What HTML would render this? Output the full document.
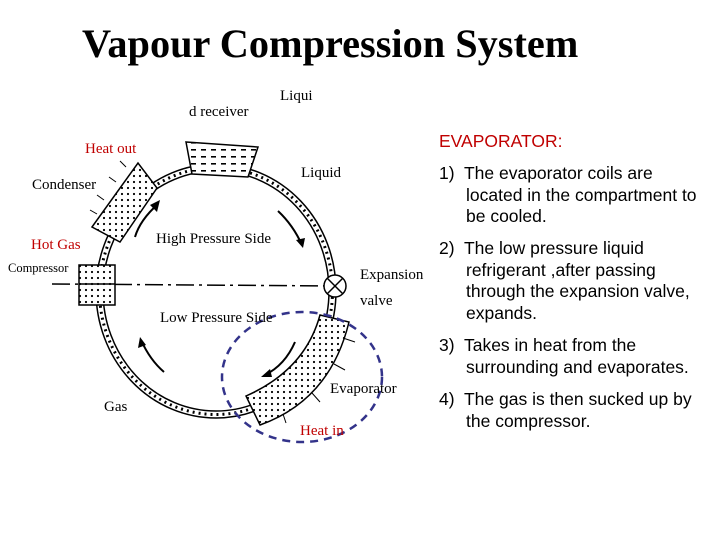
<!DOCTYPE html>
<html><head><style>
body{margin:0;background:#fff;width:720px;height:540px;overflow:hidden;position:relative;font-family:"Liberation Serif",serif}
.t{position:absolute;white-space:nowrap;font-size:15px}
.r{position:absolute;font-family:"Liberation Sans",sans-serif;font-size:17.5px;line-height:21.7px;white-space:nowrap}
.r span{padding-left:27px}
</style></head><body>
<div class="t" style="left:82px;top:20px;font-size:40.3px;font-weight:bold">Vapour Compression System</div>
<svg width="720" height="540" style="position:absolute;left:0;top:0">
<defs>
<pattern id="dots" width="6" height="6" patternUnits="userSpaceOnUse"><circle cx="2" cy="2" r="1.1" fill="#000"/></pattern>
<pattern id="dash" width="10" height="7" patternUnits="userSpaceOnUse"><rect x="1" y="2" width="5" height="1.6" fill="#000"/></pattern>
</defs>
<ellipse cx="216" cy="291" rx="120" ry="127" fill="none" stroke="#000" stroke-width="1.5"/>
<ellipse cx="216" cy="291" rx="113" ry="120" fill="none" stroke="#000" stroke-width="1.5"/>
<ellipse cx="216" cy="291" rx="116.5" ry="123.5" fill="none" stroke="#000" stroke-width="3" stroke-dasharray="2 4"/>
<line x1="52" y1="284" x2="340" y2="286" stroke="#000" stroke-width="1.5" stroke-dasharray="18 5 3 5"/>
<path d="M186 142 L258 147 L248 177 L192 174 Z" fill="#fff" stroke="#000" stroke-width="1.5"/>
<path d="M186 142 L258 147 L248 177 L192 174 Z" fill="url(#dash)"/>
<path d="M92 227 L138 163 L157 188 L120 242 Z" fill="#fff" stroke="#000" stroke-width="1.5"/>
<path d="M92 227 L138 163 L157 188 L120 242 Z" fill="url(#dots)"/>
<rect x="79" y="265" width="36" height="40" fill="#fff" stroke="#000" stroke-width="1.5"/>
<rect x="79" y="265" width="36" height="40" fill="url(#dots)"/>
<line x1="79" y1="284" x2="115" y2="284" stroke="#000" stroke-width="1.5"/>
<path d="M320 315 L349 322 Q330 400 260 425 L246 396 Q305 370 320 315 Z" fill="#fff" stroke="#000" stroke-width="1.5"/>
<path d="M320 315 L349 322 Q330 400 260 425 L246 396 Q305 370 320 315 Z" fill="url(#dots)"/>
<circle cx="335" cy="286" r="11" fill="#fff" stroke="#000" stroke-width="1.5"/>
<line x1="327" y1="278" x2="343" y2="294" stroke="#000" stroke-width="1.5"/>
<line x1="343" y1="278" x2="327" y2="294" stroke="#000" stroke-width="1.5"/>
<g stroke="#000" stroke-width="2" fill="none">
<path d="M135 237 Q140 220 158 204"/><path d="M278 211 Q293 225 302 245"/>
<path d="M164 372 Q150 360 141 340"/><path d="M295 342 Q285 365 265 375"/>
</g>
<g fill="#000">
<polygon points="160,200 150,205 157,212"/><polygon points="303,248 296,240 305,238"/>
<polygon points="140,337 138,348 146,345"/><polygon points="261,377 270,369 272,377"/>
</g>
<g stroke="#000" stroke-width="1">
<line x1="126" y1="167" x2="120" y2="161"/><line x1="116" y1="182" x2="109" y2="177"/><line x1="104" y1="200" x2="97" y2="195"/><line x1="97" y1="214" x2="90" y2="210"/>
<line x1="343" y1="338" x2="355" y2="342"/><line x1="334" y1="364" x2="345" y2="370"/><line x1="312" y1="393" x2="320" y2="402"/><line x1="283" y1="414" x2="286" y2="423"/>
</g>
<ellipse cx="302" cy="377" rx="80" ry="65" fill="none" stroke="#33338a" stroke-width="2.5" stroke-dasharray="8 6"/>
</svg>
<div class="t" style="left:280px;top:88px">Liqui</div>
<div class="t" style="left:189px;top:104px">d receiver</div>
<div class="t" style="left:85px;top:141px;color:#c00000">Heat out</div>
<div class="t" style="left:32px;top:177px">Condenser</div>
<div class="t" style="left:301px;top:165px">Liquid</div>
<div class="t" style="left:31px;top:237px;color:#c00000">Hot Gas</div>
<div class="t" style="left:156px;top:231px">High Pressure Side</div>
<div class="t" style="left:8px;top:261px;font-size:12.5px">Compressor</div>
<div class="t" style="left:360px;top:267px">Expansion</div>
<div class="t" style="left:360px;top:293px">valve</div>
<div class="t" style="left:160px;top:310px">Low Pressure Side</div>
<div class="t" style="left:330px;top:381px">Evaporator</div>
<div class="t" style="left:104px;top:399px">Gas</div>
<div class="t" style="left:300px;top:423px;color:#c00000">Heat in</div>
<div class="r" style="left:439px;top:131px;color:#c00000">EVAPORATOR:</div>
<div class="r" style="left:439px;top:163px">1)&nbsp; The evaporator coils are<br><span>located in the compartment to</span><br><span>be cooled.</span></div>
<div class="r" style="left:439px;top:238px">2)&nbsp; The low pressure liquid<br><span>refrigerant ,after passing</span><br><span>through the expansion valve,</span><br><span>expands.</span></div>
<div class="r" style="left:439px;top:335px">3)&nbsp; Takes in heat from the<br><span>surrounding and evaporates.</span></div>
<div class="r" style="left:439px;top:389px">4)&nbsp; The gas is then sucked up by<br><span>the compressor.</span></div>
</body></html>
